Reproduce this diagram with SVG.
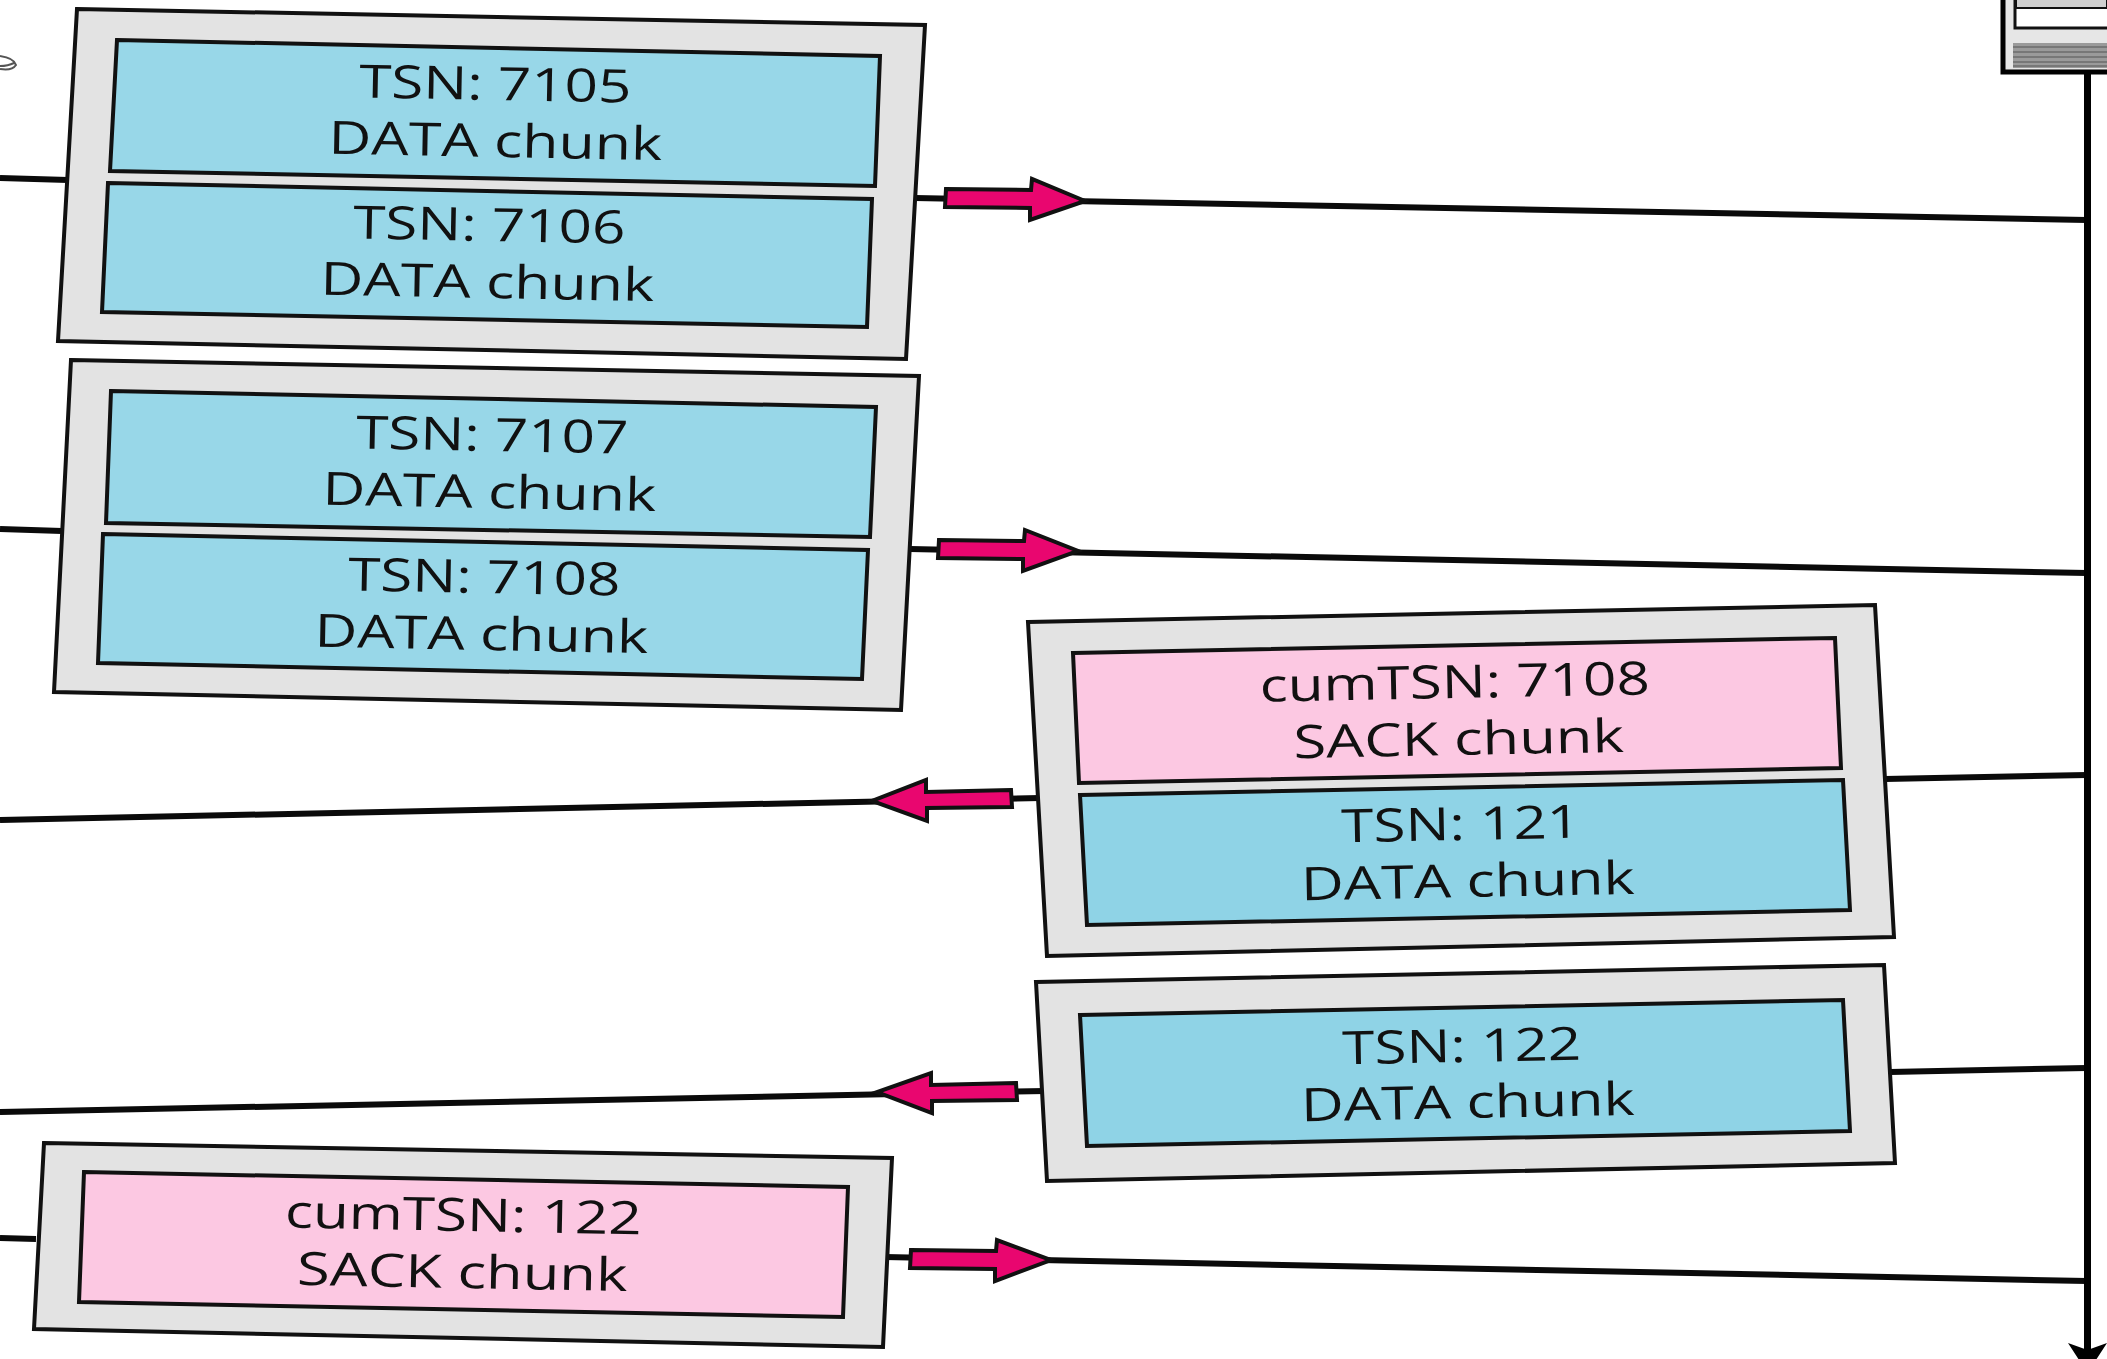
<svg xmlns="http://www.w3.org/2000/svg" width="2107" height="1359" viewBox="0 0 2107 1359">
<style>
.o{fill:#e3e3e3;stroke:#111;stroke-width:4}
.d{fill:#98d7e8;stroke:#111;stroke-width:4}
.e{fill:#8fd3e6;stroke:#111;stroke-width:4}
.s{fill:#fcc8e2;stroke:#111;stroke-width:4}
.t{font-family:"Open Sans",sans-serif;font-size:46px;fill:#111;text-anchor:middle}
.l{stroke:#0a0a0a;stroke-width:6;fill:none}
.a{fill:#e9066f;stroke:#111;stroke-width:4}
.h{stroke:#777;stroke-width:2}
</style>
<rect width="2107" height="1359" fill="#fff"/>
<g id="connectors">
<path class="l" d="M0 178L68 180"/><path class="l" d="M915 198L2087 220"/>
<path class="l" d="M0 529L62 531"/><path class="l" d="M910 549L2087 573"/>
<path class="l" d="M0 820L1040 798"/><path class="l" d="M1885 779L2087 775"/>
<path class="l" d="M0 1112L1045 1091"/><path class="l" d="M1890 1072L2087 1068"/>
<path class="l" d="M0 1238L36 1239"/><path class="l" d="M885 1257L2087 1281"/>
<path d="M2087.5 72V1350" stroke="#000" stroke-width="7" fill="none"/>
<path d="M2087.5 1373L2068 1343L2087.5 1350L2107 1343Z" fill="#000"/>
<polygon class="a" points="946,189 1031,190 1032,179 1085,201 1030,220 1030,208 945,207"/>
<polygon class="a" points="939,540 1024,541 1025,530 1078,551 1023,571 1023,559 938,558"/>
<polygon class="a" points="1011,790 926,792 926,780 872,801 927,821 927,808 1012,807"/>
<polygon class="a" points="1016,1083 931,1085 931,1073 877,1092 932,1113 932,1101 1017,1100"/>
<polygon class="a" points="911,1250 996,1251 997,1240 1051,1260 995,1281 995,1269 910,1268"/>
</g>
<g id="device">
<path d="M2003 -5V72H2112V-5" fill="#e6e6e6" stroke="#000" stroke-width="5"/>
<rect x="2015" y="-5" width="97" height="33" fill="#fff" stroke="#111" stroke-width="3"/>
<rect x="2016" y="-5" width="91" height="13" fill="#d0d0d0" stroke="#111" stroke-width="2"/>
<rect x="2013" y="43" width="94" height="25" fill="#9a9a9a"/>
<path class="h" d="M2013 47H2107M2013 52H2107M2013 57H2107M2013 62H2107M2013 66H2107"/>
</g>
<g id="squiggle"><path d="M0 56Q14 58 16 65Q12 71 0 69M0 66Q8 66 14 63" fill="none" stroke="#555" stroke-width="2"/></g>
<g id="packet1">
<polygon class="o" points="77,9 925,25 906,359 58,341"/>
<polygon class="d" points="117,40 880,56 875,186 110,171"/>
<polygon class="d" points="108,183 872,199 867,327 102,312"/>
<text class="t" transform="translate(495 100) rotate(1.1) scale(1.27 1)">TSN: 7105</text>
<text class="t" transform="translate(495 157) rotate(1.1) scale(1.285 1)">DATA chunk</text>
<text class="t" transform="translate(489 241) rotate(1.1) scale(1.27 1)">TSN: 7106</text>
<text class="t" transform="translate(487 298) rotate(1.1) scale(1.285 1)">DATA chunk</text>
</g>
<g id="packet2">
<polygon class="o" points="71,360 919,376 901,710 54,692"/>
<polygon class="d" points="111,391 876,407 870,537 106,523"/>
<polygon class="d" points="103,534 868,550 862,679 98,663"/>
<text class="t" transform="translate(492 451) rotate(1.1) scale(1.27 1)">TSN: 7107</text>
<text class="t" transform="translate(489 508) rotate(1.1) scale(1.285 1)">DATA chunk</text>
<text class="t" transform="translate(484 593) rotate(1.1) scale(1.27 1)">TSN: 7108</text>
<text class="t" transform="translate(481 650) rotate(1.1) scale(1.285 1)">DATA chunk</text>
</g>
<g id="packet3">
<polygon class="o" points="1028,622 1875,605 1894,937 1047,956"/>
<polygon class="s" points="1073,653 1835,638 1841,768 1079,783"/>
<polygon class="e" points="1080,795 1843,780 1850,910 1087,925"/>
<text class="t" transform="translate(1455 698) rotate(-1.1) scale(1.27 1)">cumTSN: 7108</text>
<text class="t" transform="translate(1459 755) rotate(-1.1) scale(1.3 1)">SACK chunk</text>
<text class="t" transform="translate(1461 840) rotate(-1.1) scale(1.27 1)">TSN: 121</text>
<text class="t" transform="translate(1468 897) rotate(-1.1) scale(1.285 1)">DATA chunk</text>
</g>
<g id="packet4">
<polygon class="o" points="1036,982 1884,965 1895,1163 1047,1181"/>
<polygon class="e" points="1080,1015 1843,1000 1850,1131 1087,1146"/>
<text class="t" transform="translate(1462 1062) rotate(-1.1) scale(1.27 1)">TSN: 122</text>
<text class="t" transform="translate(1468 1118) rotate(-1.1) scale(1.285 1)">DATA chunk</text>
</g>
<g id="packet5">
<polygon class="o" points="44,1143 892,1158 883,1347 34,1329"/>
<polygon class="s" points="84,1172 848,1187 843,1317 79,1302"/>
<text class="t" transform="translate(463 1231) rotate(1.1) scale(1.27 1)">cumTSN: 122</text>
<text class="t" transform="translate(462 1288) rotate(1.1) scale(1.3 1)">SACK chunk</text>
</g>
</svg>
